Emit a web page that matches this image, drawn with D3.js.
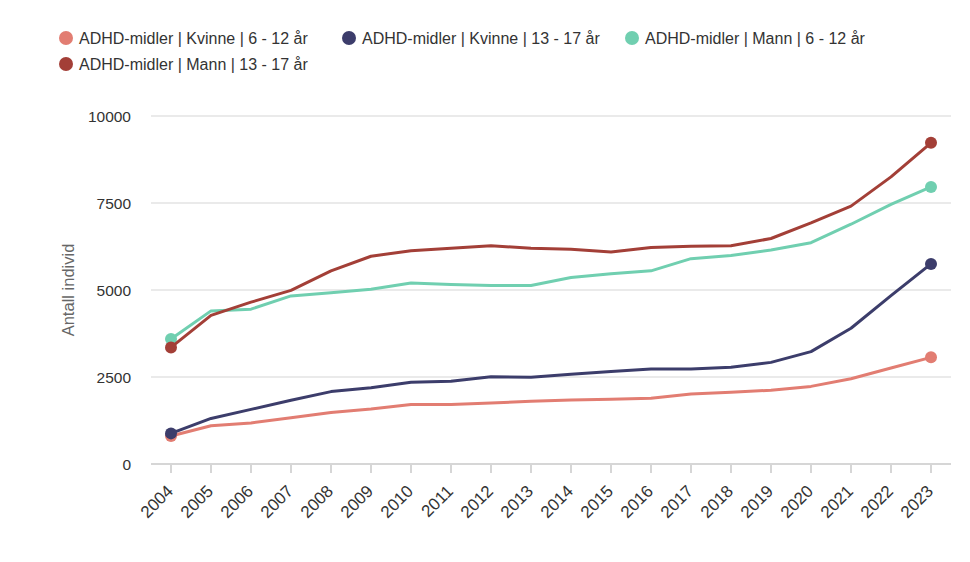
<!DOCTYPE html>
<html lang="no">
<head>
	<meta charset="UTF-8">
	<title>ADHD-midler</title>
	<style>
		body { margin: 0; background: #fff; }
		text { font-family: "Liberation Sans", Arial, sans-serif; }
	</style>
</head>
<body>

	<script src="https://cdn.jsdelivr.net/npm/d3@7"></script>

	<script type="text/javascript">

		var width = 970,
			height = 562;

		var years = [ "2004", "2005", "2006", "2007", "2008", "2009", "2010", "2011", "2012", "2013",
					  "2014", "2015", "2016", "2017", "2018", "2019", "2020", "2021", "2022", "2023" ];

		var seriesNames = [ "ADHD-midler | Kvinne | 6 - 12 år", "ADHD-midler | Kvinne | 13 - 17 år",
							"ADHD-midler | Mann | 6 - 12 år", "ADHD-midler | Mann | 13 - 17 år" ];

		var kvinne612 = [ 805, 1100, 1180, 1330, 1480, 1580, 1710, 1710, 1750, 1800,
						  1840, 1860, 1890, 2010, 2060, 2120, 2230, 2450, 2760, 3065 ];
		var kvinne1317 = [ 880, 1310, 1570, 1830, 2080, 2190, 2350, 2380, 2510, 2490,
						   2580, 2660, 2730, 2730, 2780, 2920, 3230, 3900, 4840, 5750 ];
		var mann612 = [ 3590, 4400, 4450, 4830, 4920, 5020, 5200, 5160, 5130, 5130,
						5360, 5470, 5550, 5900, 5990, 6150, 6360, 6890, 7460, 7960 ];
		var mann1317 = [ 3350, 4270, 4650, 4990, 5550, 5970, 6130, 6200, 6270, 6200,
						 6170, 6090, 6220, 6260, 6270, 6480, 6930, 7410, 8250, 9230 ];

		var yTicks = [ 0, 2500, 5000, 7500, 10000 ];

		var colors = [ "#e27d72", "#3c3d6b", "#70cfb0", "#a33f37" ];

		var allSeries = [ kvinne612, kvinne1317, mann612, mann1317 ];

		// draw order: the 13-17 lines sit on top of the 6-12 lines at the first point
		var drawOrder = [ 0, 2, 3, 1 ];

		var svg = d3.select( "body" )
					.append( "svg" )
					.attr( "width", width )
					.attr( "height", height );

		var x = d3.scaleBand()
				.domain( years )
				.range( [ 151, 951 ] );

		var y = d3.scaleLinear()
				.domain( [ 0, 10000 ] )
				.range( [ 464, 116 ] );

		function cx( year ) {
			return x( year ) + x.bandwidth() / 2;
		}

		// grid lines
		svg.append( "g" )
			.selectAll( "line" )
			.data( yTicks )
			.enter()
			.append( "line" )
			.attr( "x1", 151 )
			.attr( "x2", 951 )
			.attr( "y1", function(d) { return y(d); } )
			.attr( "y2", function(d) { return y(d); } )
			.attr( "stroke", function(d) { return d === 0 ? "#d6d6d6" : "#e3e3e3"; } )
			.attr( "stroke-width", function(d) { return d === 0 ? 2 : 1.5; } );

		// y axis labels
		var yAxis = d3.axisLeft( y )
					.tickValues( yTicks )
					.tickSize( 0 )
					.tickPadding( 0 )
					.tickFormat( d3.format( "d" ) );

		var yG = svg.append( "g" )
					.attr( "transform", "translate(131,0)" )
					.call( yAxis );
		yG.select( ".domain" ).remove();
		yG.selectAll( "text" )
			.attr( "fill", "#333" )
			.attr( "dy", "0.35em" )
			.style( "font-size", "15.5px" )
			.style( "font-family", "Liberation Sans, Arial, sans-serif" );

		svg.append( "text" )
			.attr( "transform", "translate(74,290) rotate(-90)" )
			.attr( "text-anchor", "middle" )
			.attr( "fill", "#666" )
			.style( "font-size", "16.5px" )
			.text( "Antall individ" );

		// x axis
		var xAxis = d3.axisBottom( x )
					.tickSize( 9 )
					.tickPadding( 4 );

		var xG = svg.append( "g" )
					.attr( "transform", "translate(0,464)" )
					.call( xAxis );
		xG.select( ".domain" ).remove();
		xG.selectAll( ".tick line" )
			.attr( "stroke", "#d6d6d6" )
			.attr( "stroke-width", 2 );
		xG.selectAll( "text" )
			.attr( "fill", "#333" )
			.attr( "text-anchor", "end" )
			.attr( "transform", "translate(-1,24) rotate(-45)" )
			.attr( "dy", "0.35em" )
			.attr( "y", 0 )
			.style( "font-size", "17px" )
			.style( "font-family", "Liberation Sans, Arial, sans-serif" );

		// lines
		var line = d3.line()
					.x( function(d, i) { return cx( years[i] ); } )
					.y( function(d) { return y(d); } );

		drawOrder.forEach( function( s ) {
			var values = allSeries[ s ];

			svg.append( "path" )
				.datum( values )
				.attr( "d", line )
				.attr( "fill", "none" )
				.attr( "stroke", colors[ s ] )
				.attr( "stroke-width", 3 )
				.attr( "stroke-linejoin", "round" );

			// end markers on first and last point
			svg.selectAll( null )
				.data( [ 0, values.length - 1 ] )
				.enter()
				.append( "circle" )
				.attr( "cx", function(i) { return cx( years[i] ); } )
				.attr( "cy", function(i) { return y( values[i] ); } )
				.attr( "r", 6 )
				.attr( "fill", colors[ s ] );
		});

		// legend
		var legendPos = [ [ 66, 38 ], [ 349, 38 ], [ 632, 38 ], [ 66, 64 ] ];

		var legend = svg.append( "g" )
					.selectAll( "g" )
					.data( seriesNames )
					.enter()
					.append( "g" )
					.attr( "transform", function(d, i) {
						return "translate(" + legendPos[i][0] + "," + legendPos[i][1] + ")";
					});

		legend.append( "circle" )
			.attr( "r", 7 )
			.attr( "fill", function(d, i) { return colors[i]; } );

		legend.append( "text" )
			.attr( "x", 13 )
			.attr( "dy", "0.35em" )
			.attr( "fill", "#333" )
			.style( "font-size", "16px" )
			.text( function(d) { return d; } );

	</script>
</body>
</html>
